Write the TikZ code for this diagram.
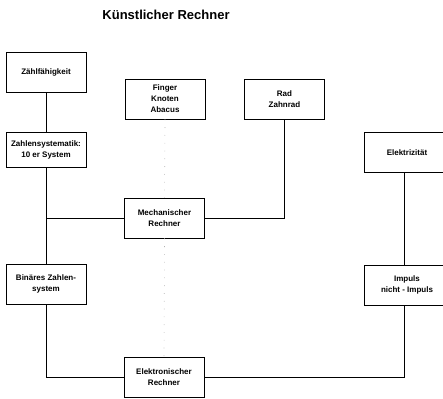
\documentclass[tikz,border=0pt]{standalone}
\usepackage{fontspec}
\setmainfont{Liberation Sans}
\begin{document}
\begin{tikzpicture}[x=1pt,y=-1pt,
  box/.style={draw, line width=0.8pt, rectangle, minimum width=80pt, minimum height=40pt, align=center, inner sep=1pt, font=\bfseries\fontsize{8}{11}\selectfont},
  rbox/.style={box, minimum width=86pt},
  conn/.style={line width=0.8pt},
  dotconn/.style={line width=0.6pt, gray!60, dash pattern=on 0.8pt off 7pt}]
\useasboundingbox (0,0) rectangle (443,398);
\node[font=\bfseries\fontsize{13}{15}\selectfont] (title) at (166,15) {Künstlicher Rechner};
\node[box] (zf) at (46,72) {Zählfähigkeit};
\node[box] (finger) at (165,99) {Finger\\Knoten\\Abacus};
\node[box] (rad) at (284.5,99) {Rad\\Zahnrad};
\node[box, minimum height=35pt] (zs) at (46,149.5) {Zahlensystematik:\\10 er System};
\node[rbox] (elek) at (407,152.5) {Elektrizität};
\node[box] (mech) at (164.5,218) {Mechanischer\\Rechner};
\node[box] (bin) at (46,284) {Binäres Zahlen-\\system};
\node[rbox] (imp) at (407,285) {Impuls\\nicht - Impuls};
\node[box] (el) at (164,377) {Elektronischer\\Rechner};
\draw[conn] (zf.south) -- (zs.north);
\draw[conn] (zs.south) -- (bin.north);
\draw[conn] (zs.south |- mech.west) -- (mech.west);
\draw[conn] (mech.east) -| (rad.south);
\draw[conn] ([xshift=-3pt]elek.south) -- ([xshift=-3pt]imp.north);
\draw[conn] (bin.south) |- (el.west);
\draw[conn] ([xshift=-3pt]imp.south) |- (el.east);
\draw[dotconn] (finger.south) -- (mech.north);
\draw[dotconn] (mech.south) -- (el.north);
\end{tikzpicture}
\end{document}
